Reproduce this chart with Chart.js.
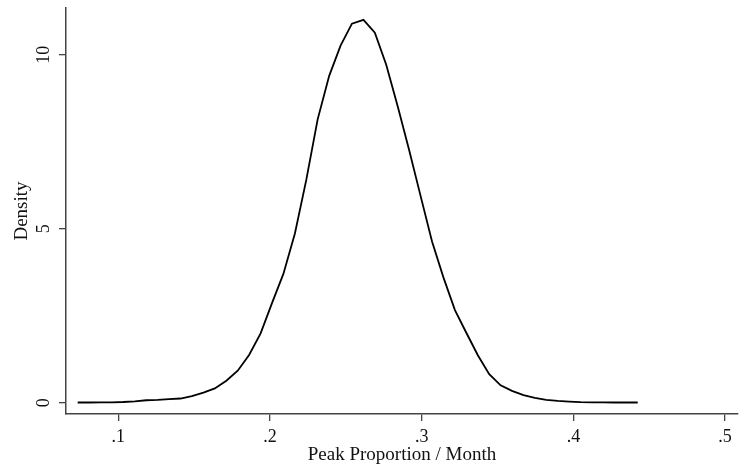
<!DOCTYPE html>
<html>
<head>
<meta charset="utf-8">
<script src="https://cdn.jsdelivr.net/npm/chart.js@4.4.1/dist/chart.umd.min.js"></script>
<style>
  html, body { margin: 0; padding: 0; background: #fff; }
  canvas { display: block; }
</style>
</head>
<body>
<canvas id="densityChart" width="741" height="470"></canvas>
<script>
// Kernel density of peak proportion / month
const gridX = [
  0.0732, 0.0807, 0.0883, 0.0958, 0.1033, 0.1109, 0.1184, 0.1259, 0.1335, 0.1410,
  0.1485, 0.1561, 0.1636, 0.1712, 0.1787, 0.1862, 0.1938, 0.2013, 0.2088, 0.2164,
  0.2239, 0.2314, 0.2390, 0.2465, 0.2540, 0.2616, 0.2691, 0.2766, 0.2842, 0.2917,
  0.2992, 0.3068, 0.3143, 0.3219, 0.3294, 0.3369, 0.3445, 0.3520, 0.3595, 0.3671,
  0.3746, 0.3821, 0.3897, 0.3972, 0.4047, 0.4123, 0.4198, 0.4273, 0.4349, 0.4424
];
const density = [
  0.005, 0.005, 0.008, 0.01, 0.02, 0.04, 0.07, 0.08, 0.10, 0.12,
  0.19, 0.29, 0.41, 0.63, 0.92, 1.37, 1.99, 2.86, 3.70, 4.86,
  6.40, 8.14, 9.39, 10.26, 10.89, 11.00, 10.63, 9.71, 8.51, 7.26,
  5.95, 4.63, 3.60, 2.66, 2.01, 1.37, 0.82, 0.50, 0.34, 0.22,
  0.14, 0.08, 0.05, 0.03, 0.015, 0.01, 0.008, 0.006, 0.005, 0.005
];

const xTickValues = [0.1, 0.2, 0.3, 0.4, 0.5];
const xTickLabels = [".1", ".2", ".3", ".4", ".5"];
const yTickValues = [0, 5, 10];
const yTickLabels = ["0", "5", "10"];

const xTitle = "Peak Proportion / Month";
const yTitle = "Density";

const serif = "'Liberation Serif', 'Times New Roman', serif";
const axisColor = "#444";
const textColor = "#111";

const points = gridX.map((x, i) => ({ x: x, y: density[i] }));

// y tick labels rotated like Stata, centred on their tick marks
const rotatedYLabels = {
  id: "rotatedYLabels",
  afterDraw(chart) {
    const scale = chart.scales.y;
    const ctx = chart.ctx;
    ctx.save();
    ctx.fillStyle = textColor;
    ctx.font = "18px " + serif;
    ctx.textAlign = "center";
    ctx.textBaseline = "middle";
    scale.ticks.forEach((t, i) => {
      const py = scale.getPixelForValue(t.value);
      ctx.save();
      ctx.translate(scale.right - 22, py);
      ctx.rotate(-Math.PI / 2);
      ctx.fillText(yTickLabels[i], 0, 0);
      ctx.restore();
    });
    ctx.restore();
  }
};

new Chart(document.getElementById("densityChart"), {
  type: "line",
  data: {
    datasets: [{
      data: points,
      borderColor: "#000",
      borderWidth: 1.8,
      pointRadius: 0,
      tension: 0,
      fill: false
    }]
  },
  options: {
    responsive: false,
    animation: false,
    layout: { padding: { top: 8, right: 3, left: 0, bottom: 0 } },
    plugins: {
      legend: { display: false },
      tooltip: { enabled: false }
    },
    scales: {
      x: {
        type: "linear",
        min: 0.0655,
        max: 0.5085,
        afterBuildTicks: s => { s.ticks = xTickValues.map(v => ({ value: v })); },
        afterFit: s => { s.height = 56; },
        grid: {
          drawOnChartArea: false,
          tickLength: 7,
          color: axisColor,
          lineWidth: 1.3
        },
        border: { color: axisColor, width: 1.5 },
        ticks: {
          autoSkip: false,
          maxRotation: 0,
          padding: 5,
          color: textColor,
          font: { family: serif, size: 18 },
          callback: (v, i) => xTickLabels[i]
        },
        title: {
          display: true,
          text: xTitle,
          color: textColor,
          font: { family: serif, size: 19 },
          padding: { top: 0, bottom: 4 }
        }
      },
      y: {
        type: "linear",
        min: -0.325,
        max: 11.34,
        afterBuildTicks: s => { s.ticks = yTickValues.map(v => ({ value: v })); },
        afterFit: s => { s.width = 66; },
        grid: {
          drawOnChartArea: false,
          tickLength: 7,
          color: axisColor,
          lineWidth: 1.3
        },
        border: { color: axisColor, width: 1.5 },
        ticks: {
          display: false
        },
        title: {
          display: true,
          text: yTitle,
          color: textColor,
          font: { family: serif, size: 19 },
          padding: { top: 11, bottom: 0 }
        }
      }
    }
  },
  plugins: [rotatedYLabels]
});
</script>
</body>
</html>
